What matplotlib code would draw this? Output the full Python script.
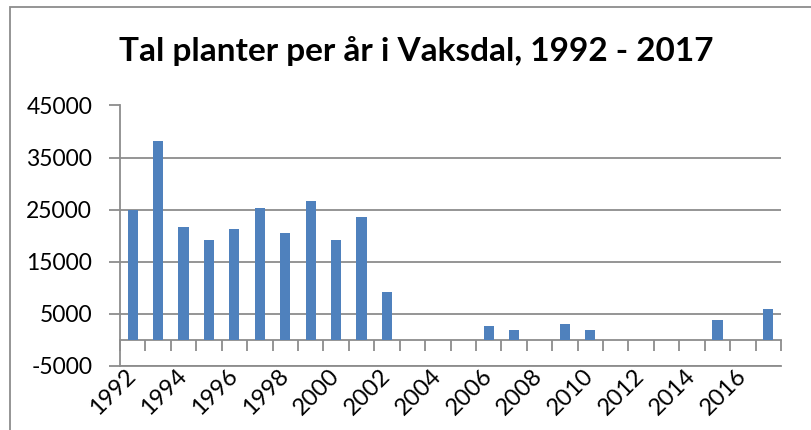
import matplotlib
matplotlib.use("Agg")
import matplotlib.pyplot as plt
import numpy as np

plt.rcParams["font.family"] = ["Lato", "DejaVu Sans"]

# Tal planter per år (Vaksdal)
years = list(range(1992, 2018))
plants = [25000, 38200, 21700, 19200, 21200, 25400, 20600, 26700, 19100, 23600,
          9200, 0, 0, 0, 2600, 2000, 0, 3000, 2000, 0,
          0, 0, 0, 3800, 0, 6000]
y_ticks = [-5000, 5000, 15000, 25000, 35000, 45000]

GRID = "#8c8c8c"
BAR = "#4f81bd"
W, H = 811, 430

fig = plt.figure(figsize=(W / 100, H / 100), dpi=100)
ax = fig.add_axes([120 / W, 64 / H, 661 / W, 260.5 / H])

x = np.arange(len(years))
ax.bar(x, plants, width=0.4, color=BAR, linewidth=0, zorder=3)

ax.set_xlim(-0.5, len(years) - 0.5)
ax.set_ylim(y_ticks[0], y_ticks[-1])
ax.set_yticks(y_ticks)
ax.set_yticklabels([str(v) for v in y_ticks])
ax.grid(axis="y", color=GRID, lw=1.3, zorder=0)
ax.tick_params(axis="y", length=8, width=1.3, color=GRID, labelsize=16.5, pad=12)

for side in ["top", "right"]:
    ax.spines[side].set_visible(False)
for side in ["left", "bottom"]:
    ax.spines[side].set_color(GRID)
    ax.spines[side].set_linewidth(1.3)

# labels every other year, rotated, sitting under the bottom gridline
ax.set_xticks(x[::2])
ax.set_xticklabels([str(y) for y in years[::2]], rotation=45, ha="right",
                   va="center", rotation_mode="anchor", fontsize=17)
ax.tick_params(axis="x", length=0, pad=5)

# category axis crossing at zero with tick marks between categories
zero_pos = (0 - y_ticks[0]) / (y_ticks[-1] - y_ticks[0])
sec = ax.secondary_xaxis(zero_pos)
sec.set_xticks(np.arange(len(years) + 1) - 0.5)
sec.set_xticklabels([])
sec.tick_params(axis="x", direction="out", length=8, width=1.3, color=GRID)
sec.spines["bottom"].set_color(GRID)
sec.spines["bottom"].set_linewidth(1.3)

fig.text(0.5136, 1 - 61 / H, "Tal planter per år i Vaksdal, 1992 - 2017",
         ha="center", va="baseline", fontsize=24, fontweight="bold")

# chart area border (top and left edges visible)
fig.patches.append(plt.Rectangle((10 / W, -0.1), 1.0, (H - 7) / H + 0.1,
                                 transform=fig.transFigure, fill=False,
                                 edgecolor=GRID, lw=1.3))

fig.savefig("out.png", dpi=100)
